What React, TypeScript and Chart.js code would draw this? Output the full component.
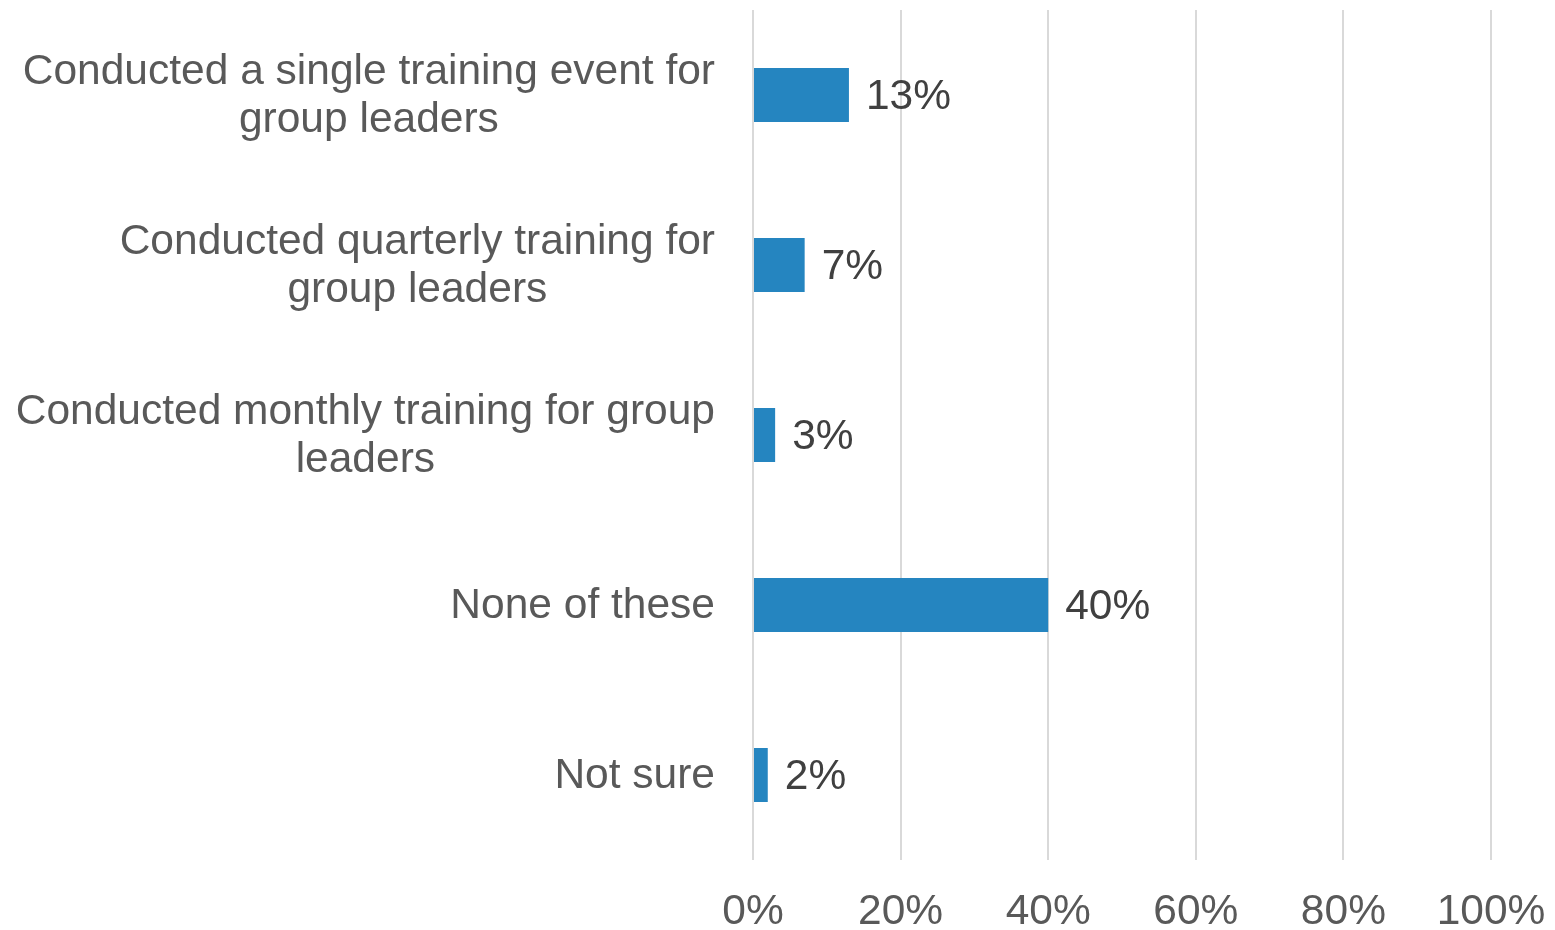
import React, { useEffect, useRef } from "react";
import { Chart, registerables } from "chart.js";

Chart.register(...registerables);

const categories: (string | string[])[] = [
  ["Conducted a single training event for", "group leaders"],
  ["Conducted quarterly training for", "group leaders"],
  ["Conducted monthly training for group", "leaders"],
  "None of these",
  "Not sure",
];
const values: number[] = [13, 7, 3, 40, 2];
const xTicks: number[] = [0, 20, 40, 60, 80, 100];

const FONT = "'Liberation Sans', Arial, sans-serif";
const BAR_COLOR = "#2585C0";
const GRID_COLOR = "#D9D9D9";
const TICK_COLOR = "#595959";
const LABEL_COLOR = "#404040";

const customLabels = {
  id: "customLabels",
  afterDatasetsDraw(chart: any) {
    const ctx = chart.ctx;
    const yScale = chart.scales.y;
    const meta = chart.getDatasetMeta(0);
    ctx.save();
    ctx.font = `42.5px ${FONT}`;
    ctx.fillStyle = TICK_COLOR;
    ctx.textBaseline = "middle";
    const lineH = 48;
    categories.forEach((cat, i) => {
      const lines = Array.isArray(cat) ? cat : [cat];
      const yc = yScale.getPixelForTick(i);
      const rightEdge = chart.chartArea.left - 38;
      const widths = lines.map((l) => ctx.measureText(l).width);
      const maxW = Math.max(...widths);
      const blockCenter = rightEdge - maxW / 2;
      ctx.textAlign = "center";
      lines.forEach((l, j) => {
        const y = yc + (j - (lines.length - 1) / 2) * lineH + 1;
        ctx.fillText(l, blockCenter, y);
      });
    });
    ctx.fillStyle = LABEL_COLOR;
    ctx.textAlign = "left";
    meta.data.forEach((bar: any, i: number) => {
      ctx.fillText(values[i] + "%", bar.x + 17, bar.y + 2);
    });
    ctx.restore();
  },
};

export default function App() {
  const ref = useRef<HTMLCanvasElement>(null);
  useEffect(() => {
    document.body.style.margin = "0";
    const chart = new Chart(ref.current!, {
      type: "bar",
      data: {
        labels: categories as any,
        datasets: [
          {
            data: values,
            backgroundColor: BAR_COLOR,
            borderWidth: 0,
            categoryPercentage: 1,
            barPercentage: 0.318,
          },
        ],
      },
      options: {
        indexAxis: "y",
        animation: false,
        responsive: false,
        maintainAspectRatio: false,
        layout: { padding: { top: 10, right: 64, left: 0, bottom: 0 } },
        plugins: { legend: { display: false }, tooltip: { enabled: false } },
        scales: {
          x: {
            min: 0,
            max: 100,
            afterBuildTicks: (scale: any) => {
              scale.ticks = xTicks.map((v) => ({ value: v }));
            },
            grid: { color: GRID_COLOR, lineWidth: 2, drawTicks: false },
            border: { display: false },
            ticks: {
              color: TICK_COLOR,
              font: { family: FONT, size: 42.5 },
              padding: 27,
              maxRotation: 0,
              callback: (v: any) => v + "%",
            },
            afterFit: (scale: any) => {
              scale.height = 70;
              scale.paddingRight = 0;
              scale.paddingLeft = 0;
            },
          },
          y: {
            grid: { display: false, drawTicks: false },
            border: { display: false },
            ticks: { display: false },
            afterFit: (scale: any) => {
              scale.width = 753;
            },
          },
        },
      },
      plugins: [customLabels],
    });
    return () => chart.destroy();
  }, []);
  return (
    <div style={{ position: "absolute", left: 0, top: 0, width: 1555, height: 930 }}>
      <canvas ref={ref} width={1555} height={930} style={{ display: "block" }} />
    </div>
  );
}
